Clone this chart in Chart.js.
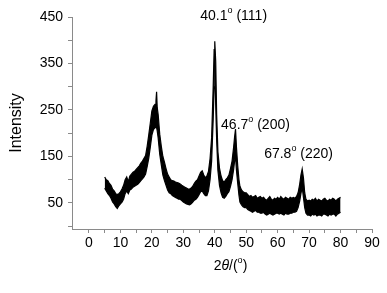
<!DOCTYPE html>
<html lang="en">
<head>
    <meta charset="UTF-8">
    <script src="https://cdn.jsdelivr.net/npm/chart.js@4/dist/chart.umd.min.js"></script>
    <title>XRD</title>
    <style>
        html, body { margin: 0; padding: 0; background: #fff; }
        #wrap { width: 387px; height: 293px; }
    </style>
</head>
<body>
    <div id="wrap"><canvas id="grafico"></canvas></div>

<script>
    // 2theta values (degrees) and the upper / lower edge of the noisy trace
    var twoTheta = [
        5, 5.5, 6, 6.5, 7, 7.5, 8, 8.5, 9, 9.5, 10, 10.5, 11, 11.5, 12, 12.5, 13, 13.5, 14, 14.5, 15, 15.5, 16, 16.5, 17, 17.5, 18, 18.5, 19, 19.5, 20, 20.5, 21,
        21.3, 21.5, 21.7, 22, 22.5, 23, 23.5, 24, 24.5, 25, 25.5, 26, 26.5, 27, 27.5, 28, 28.5, 29, 29.5, 30, 30.5, 31, 31.5, 32, 32.5, 33, 33.5, 34, 34.5, 35, 35.5, 36, 36.5, 37, 37.5, 38, 38.5,
        39, 39.5, 39.8, 40, 40.3, 40.6, 41, 41.5, 42, 42.5, 43, 43.5, 44, 44.5, 45, 45.5, 46, 46.3, 46.6, 46.9, 47.3, 47.7, 48, 48.5, 49, 49.5,
        50, 50.5, 51, 51.5, 52, 52.5, 53, 53.5, 54, 54.5, 55, 55.5, 56, 56.5, 57, 57.5, 58, 58.5, 59, 59.5, 60, 60.5, 61, 61.5, 62, 62.5, 63, 63.5, 64, 64.5, 65, 65.5, 66,
        66.5, 67, 67.4, 67.8, 68.2, 68.6, 69, 69.5,
        70, 70.5, 71, 71.5, 72, 72.5, 73, 73.5, 74, 74.5, 75, 75.5, 76, 76.5, 77, 77.5, 78, 78.5, 79, 79.5, 80
    ];
    var intensityTop = [
        106, 100, 98, 92, 88, 80, 76, 70, 68, 70, 74, 80, 88, 100, 106, 96, 108, 112, 116, 118, 122, 126, 130, 136, 140, 146, 152, 172, 196, 222, 248, 258, 262,
        270, 289, 255, 240, 198, 172, 150, 138, 124, 112, 106, 100, 98, 97, 95, 94, 93, 91, 88, 86, 84, 82, 80, 80, 82, 86, 92, 97, 100, 108, 116, 119, 110, 104, 108, 118, 145,
        190, 300, 380, 398, 355, 240, 160, 125, 108, 98, 95, 100, 104, 110, 124, 140, 170, 192, 209, 170, 130, 100, 86, 78, 74, 72,
        72, 68, 64, 66, 62, 64, 66, 60, 62, 64, 60, 62, 58, 56, 60, 64, 58, 56, 60, 58, 62, 58, 64, 60, 58, 62, 60, 58, 62, 60, 62, 60, 64,
        72, 90, 110, 123, 104, 72, 58, 54,
        56, 54, 58, 56, 60, 54, 58, 56, 54, 58, 60, 56, 54, 58, 56, 60, 58, 54, 58, 60, 62
    ];
    var intensityBottom = [
        82, 76, 70, 66, 60, 52, 48, 42, 38, 44, 48, 52, 58, 70, 76, 70, 78, 80, 84, 86, 88, 90, 94, 98, 102, 106, 112, 128, 146, 170, 196, 208, 212,
        214, 212, 205, 190, 155, 132, 110, 98, 88, 78, 72, 70, 66, 64, 62, 60, 58, 58, 55, 52, 50, 48, 47, 46, 48, 52, 56, 58, 62, 68, 74, 76, 70, 66, 66, 76, 100,
        140, 230, 300, 345, 260, 185, 120, 88, 72, 62, 60, 64, 70, 74, 86, 100, 122, 140, 150, 120, 92, 66, 52, 46, 42, 40,
        40, 36, 34, 32, 30, 32, 34, 30, 30, 28, 28, 30, 26, 24, 26, 28, 26, 24, 26, 28, 28, 26, 28, 26, 24, 28, 26, 26, 28, 28, 30, 30, 32,
        40, 54, 70, 84, 62, 40, 28, 24,
        24, 22, 26, 24, 26, 22, 24, 24, 22, 26, 26, 24, 22, 26, 24, 26, 26, 22, 26, 28, 30
    ];

    // assi
    var xTicks = [0, 5, 10, 15, 20, 25, 30, 35, 40, 45, 50, 55, 60, 65, 70, 75, 80, 85, 90];
    var yTicks = [0, 25, 50, 75, 100, 125, 150, 175, 200, 225, 250, 275, 300, 325, 350, 375, 400, 425, 450];

    // etichette dei picchi: angolo, piano, posizione (2theta, intensita)
    var peakAngles = ['40.1', '46.7', '67.8'];
    var peakPlanes = ['(111)', '(200)', '(220)'];
    var peakLabelAt = [[35.4, 452], [42.0, 218], [55.7, 155]];

    var topPts = twoTheta.map(function (t, i) { return { x: t, y: intensityTop[i] }; });
    var botPts = twoTheta.map(function (t, i) { return { x: t, y: intensityBottom[i] }; });

    var FONT = "'Liberation Sans', Arial, sans-serif";
    var AXIS_GREY = '#8a8a8a';

    // scrive testo con un "o" in apice (gradi)
    function drawDegreeText(ctx, parts, x, y, size, align) {
        var widths = parts.map(function (p) {
            ctx.font = (p.italic ? 'italic ' : '') + (p.sup ? Math.round(size * 0.62) : size) + 'px ' + FONT;
            return ctx.measureText(p.t).width;
        });
        var total = widths.reduce(function (a, b) { return a + b; }, 0);
        var cx = align === 'center' ? x - total / 2 : x;
        ctx.textBaseline = 'middle';
        ctx.textAlign = 'left';
        parts.forEach(function (p, i) {
            ctx.font = (p.italic ? 'italic ' : '') + (p.sup ? Math.round(size * 0.62) : size) + 'px ' + FONT;
            ctx.fillText(p.t, cx, p.sup ? y - size * 0.38 : y);
            cx += widths[i];
        });
    }

    var labelsPlugin = {
        id: 'xrdLabels',
        afterDraw: function (chart) {
            var ctx = chart.ctx;
            var xs = chart.scales.x, ys = chart.scales.y;
            ctx.save();
            ctx.fillStyle = '#000';
            peakAngles.forEach(function (a, i) {
                var px = xs.getPixelForValue(peakLabelAt[i][0]);
                var py = ys.getPixelForValue(peakLabelAt[i][1]);
                drawDegreeText(ctx, [{ t: a }, { t: 'o', sup: true }, { t: ' ' + peakPlanes[i] }], px, py, 14, 'left');
            });
            // titolo asse x: 2θ/(o)
            drawDegreeText(ctx, [{ t: '2' }, { t: 'θ', italic: true }, { t: '/(' }, { t: 'o', sup: true }, { t: ')' }],
                xs.getPixelForValue(45), 266, 14, 'center');
            ctx.restore();
        }
    };

    var data = {
        datasets: [
            {
                data: topPts,
                borderColor: '#000',
                backgroundColor: '#000',
                borderWidth: 1.2,
                pointRadius: 0,
                tension: 0,
                fill: '+1'
            },
            {
                data: botPts,
                borderColor: '#000',
                backgroundColor: '#000',
                borderWidth: 1.2,
                pointRadius: 0,
                tension: 0,
                fill: false
            }
        ]
    };

    var options = {
        responsive: true,
        maintainAspectRatio: false,
        animation: false,
        layout: { padding: { top: 17, right: 15, left: 0, bottom: 0 } },
        plugins: {
            legend: { display: false },
            tooltip: { enabled: false }
        },
        scales: {
            x: {
                type: 'linear',
                min: -5.4,
                max: 90,
                afterBuildTicks: function (s) { s.ticks = xTicks.map(function (v) { return { value: v }; }); },
                afterFit: function (s) { s.height = 64; },
                grid: { drawOnChartArea: false, drawTicks: true, tickLength: 4, color: AXIS_GREY },
                border: { color: AXIS_GREY, width: 1 },
                ticks: {
                    autoSkip: false,
                    maxRotation: 0,
                    padding: 2,
                    color: '#000',
                    font: { family: FONT, size: 14 },
                    callback: function (v) { return v % 10 === 0 ? String(v) : ''; }
                }
            },
            y: {
                type: 'linear',
                min: -6,
                max: 450,
                afterBuildTicks: function (s) { s.ticks = yTicks.map(function (v) { return { value: v }; }); },
                afterFit: function (s) { s.width = 72; },
                grid: { drawOnChartArea: false, drawTicks: true, tickLength: 4, color: AXIS_GREY },
                border: { color: AXIS_GREY, width: 1 },
                title: {
                    display: true,
                    text: 'Intensity',
                    color: '#000',
                    font: { family: FONT, size: 16 },
                    padding: { top: 7, bottom: 0 }
                },
                ticks: {
                    padding: 5,
                    color: '#000',
                    font: { family: FONT, size: 14 },
                    callback: function (v) { return (v - 50) % 100 === 0 ? String(v) : ''; }
                }
            }
        }
    };

    new Chart('grafico', { type: 'line', data: data, options: options, plugins: [labelsPlugin] });
</script>
</body>
</html>
